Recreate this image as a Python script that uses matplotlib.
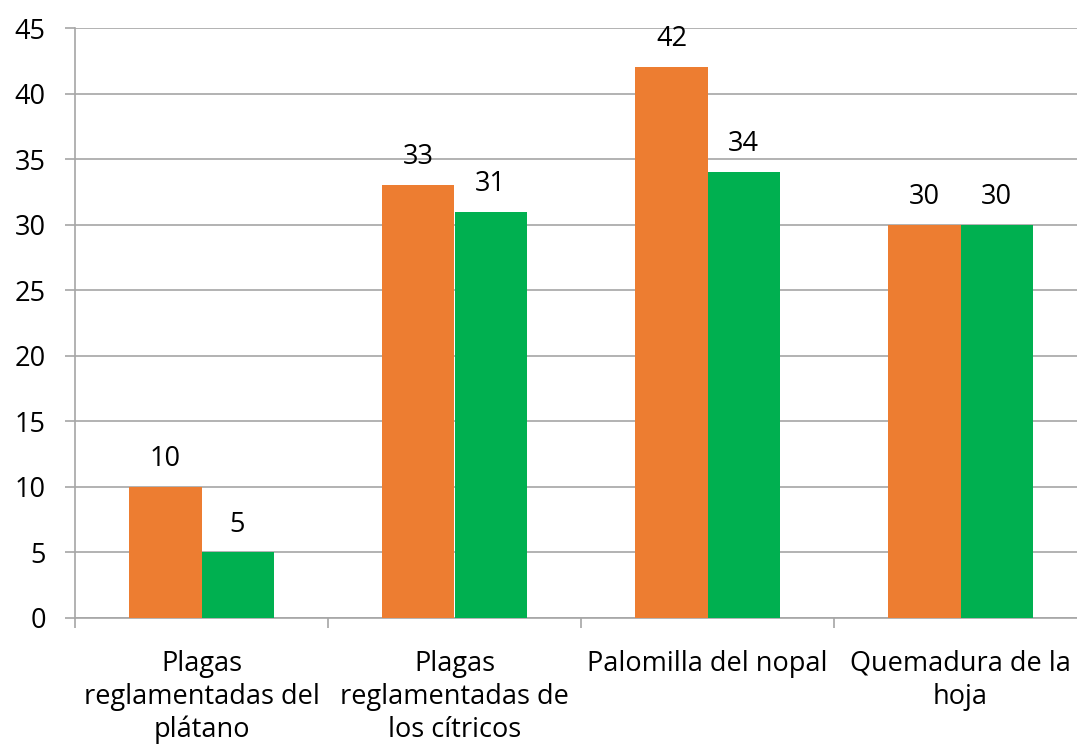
import matplotlib.pyplot as plt
import numpy as np

# Chart data
categories = ['Plagas\nreglamentadas del\nplátano',
              'Plagas\nreglamentadas de\nlos cítricos',
              'Palomilla del nopal',
              'Quemadura de la\nhoja']
serie_naranja = [10, 33, 42, 30]
serie_verde = [5, 31, 34, 30]
y_ticks = [0, 5, 10, 15, 20, 25, 30, 35, 40, 45]

plt.rcParams['font.family'] = ['Open Sans', 'DejaVu Sans']
fs = 19.5

fig = plt.figure(figsize=(10.77, 7.53), dpi=100)
ax = fig.add_axes([75 / 1077, 1 - 618 / 753, 1012 / 1077, 590 / 753])

x = np.arange(len(categories))
width = 0.285
bars1 = ax.bar(x - width / 2, serie_naranja, width, color='#ED7D31', zorder=3)
bars2 = ax.bar(x + width / 2, serie_verde, width, color='#00B050', zorder=3)

# Value labels above bars
for bars in (bars1, bars2):
    for b in bars:
        ax.annotate(f'{b.get_height():g}', (b.get_x() + b.get_width() / 2, b.get_height()),
                    xytext=(0, 10), textcoords='offset points',
                    ha='center', va='bottom', fontsize=fs, color='black')

ax.set_xlim(-0.5, len(categories) - 0.5)
ax.set_ylim(0, 45)
ax.set_yticks(y_ticks)
ax.yaxis.grid(True, color='#A6A6A6', linewidth=1.2, zorder=0)
ax.tick_params(axis='y', length=7, width=1.2, color='#A6A6A6', labelsize=fs, pad=14)

# Category labels centred, tick marks at category boundaries
ax.set_xticks(x)
ax.set_xticklabels(categories, fontsize=fs, linespacing=1.23)
ax.tick_params(axis='x', which='major', length=0, pad=23)
ax.set_xticks(np.arange(len(categories) + 1) - 0.5, minor=True)
ax.tick_params(axis='x', which='minor', length=7, width=1.2, color='#A6A6A6')

for side in ('top', 'right'):
    ax.spines[side].set_visible(False)
for side in ('left', 'bottom'):
    ax.spines[side].set_color('#A6A6A6')
    ax.spines[side].set_linewidth(1.2)

fig.savefig('out.png', dpi=100)
